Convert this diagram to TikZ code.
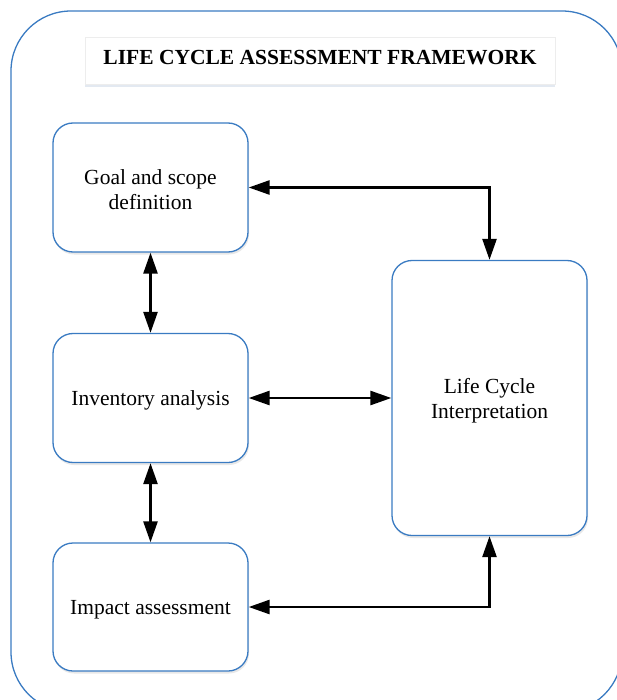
\documentclass[tikz,border=0pt]{standalone}
\usepackage{fontspec}
\setmainfont{Liberation Serif}
\usetikzlibrary{arrows.meta,shadows}
\definecolor{frameblue}{HTML}{3A7BC2}
\definecolor{shadowblue}{HTML}{8FA8C8}
\tikzset{
  stagebox/.style={draw=frameblue, line width=1.3pt, fill=white, rounded corners=20pt,
    minimum width=195pt,
    drop shadow={opacity=0.18, shadow xshift=1pt, shadow yshift=-2.5pt}},
  stagetext/.style={align=center, font=\fontsize{21.5}{25.5}\selectfont, inner sep=0pt},
  titlebox/.style={fill=white, draw=black!7, line width=0.6pt, minimum width=470pt, minimum height=47pt,
    drop shadow={fill=shadowblue, opacity=0.25, shadow xshift=0pt, shadow yshift=-2.5pt}},
  titletext/.style={font=\bfseries\fontsize{21.5}{25}\selectfont, inner sep=0pt},
  arr/.style={line width=2.6pt, line join=miter, {Triangle[length=21pt,width=14pt]}-{Triangle[length=21pt,width=14pt]}}
}
\begin{document}
\begin{tikzpicture}[x=1pt,y=-1pt]
\useasboundingbox (0,0) rectangle (617,700);
\clip (0,0) rectangle (617,700);
\draw[frameblue, line width=1.3pt, rounded corners=60pt] (11,11) rectangle (622,712);
\node[titlebox] (title) at (320,61) {};
\node[titletext] (titlet) at (320,58) {LIFE CYCLE ASSESSMENT FRAMEWORK};
\node[stagebox, minimum height=129pt] (goal) at (150.5,187.5) {};
\node[stagebox, minimum height=129pt] (inv) at (150.5,398) {};
\node[stagebox, minimum height=128pt] (imp) at (150.5,607) {};
\node[stagebox, minimum height=275pt] (lci) at (489.5,398) {};
\node[stagetext] (goalt) at ([yshift=-2pt]goal.center) {Goal and scope\\definition};
\node[stagetext] (invt) at ([yshift=-2.5pt]inv.center) {Inventory analysis};
\node[stagetext] (impt) at ([yshift=-3pt]imp.center) {Impact assessment};
\node[stagetext] (lcit) at ([yshift=-2.5pt]lci.center) {Life Cycle\\Interpretation};
\draw[arr] (goal.east) -| (lci.north);
\draw[arr] (goal.south) -- (inv.north);
\draw[arr] (inv.east) -- (lci.west);
\draw[arr] (inv.south) -- (imp.north);
\draw[arr] (imp.east) -| (lci.south);
\end{tikzpicture}
\end{document}
